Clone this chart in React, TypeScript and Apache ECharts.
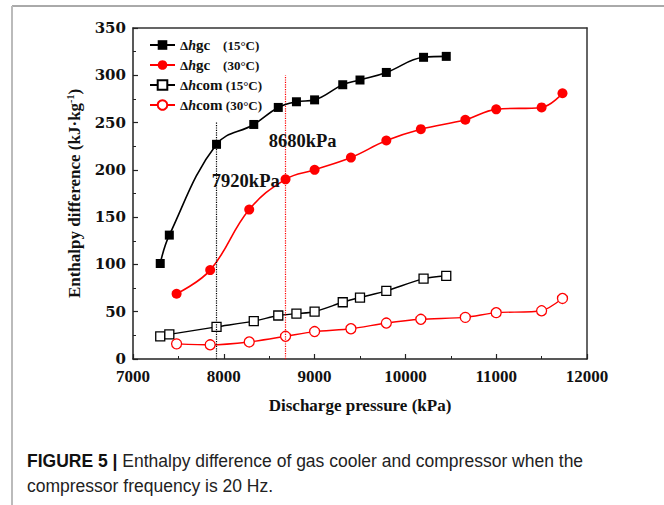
import React, { useEffect, useRef } from "react";
import * as echarts from "echarts";

const pressure15 = [7300, 7400, 7920, 8330, 8600, 8800, 9000, 9310, 9500, 9790, 10200, 10450];
const gc15 = [101, 131, 227, 248, 266, 272, 274, 290, 295, 303, 319, 320];
const com15 = [24, 26, 34, 40, 46, 48, 50, 60, 65, 72, 85, 88];

const pressure30 = [7480, 7850, 8280, 8680, 9000, 9400, 9790, 10170, 10660, 11000, 11500, 11730];
const gc30 = [69, 94, 158, 190, 200, 213, 231, 243, 253, 264, 266, 281];
const com30 = [16, 15, 18, 24, 29, 32, 38, 42, 44, 49, 51, 64];

const seriesNames = ["gc15", "gc30", "com15", "com30"];
const legendTexts: Record<string, string> = {
  gc15: "{d|Δ}{h|h}{s|gc}{t|    (15°C)}",
  gc30: "{d|Δ}{h|h}{s|gc}{t|    (30°C)}",
  com15: "{d|Δ}{h|h}{s|com}{t| (15°C)}",
  com30: "{d|Δ}{h|h}{s|com}{t| (30°C)}",
};

const guide7920 = { x: 7920, top: 251 };
const guide8680 = { x: 8680, top: 300 };
const note7920 = { x: 8242, y: 188, text: "7920kPa" };
const note8680 = { x: 8868, y: 230, text: "8680kPa" };

const xTicks = { min: 7000, max: 12000, interval: 1000 };
const yTicks = { min: 0, max: 350, interval: 50 };

const serif = "'Liberation Serif', 'Times New Roman', serif";
const wideSerif = "'DejaVu Serif', 'Liberation Serif', serif";
const sans = "'Liberation Sans', Arial, sans-serif";

const pairs = (xs: number[], ys: number[]) => xs.map((x, i) => [x, ys[i]]);

export default function App() {
  const ref = useRef<HTMLDivElement>(null);
  useEffect(() => {
    if (!ref.current) return;
    const chart = echarts.init(ref.current, null, { renderer: "svg" });
    const noteLabel = (text: string) => ({
      show: true,
      position: "inside",
      formatter: text,
      fontFamily: serif,
      fontWeight: "bold",
      fontSize: 18.5,
      color: "#111",
    });
    const richBase = { fontFamily: serif, fontWeight: "bold", color: "#111", lineHeight: 18 };
    chart.setOption({
      animation: false,
      backgroundColor: "#fff",
      grid: { left: 133, right: 77, top: 28, bottom: 146, show: false },
      legend: {
        orient: "vertical",
        left: 144,
        top: 31,
        itemWidth: 25,
        itemHeight: 12,
        itemGap: 2,
        data: seriesNames,
        formatter: (n: string) => legendTexts[n],
        textStyle: {
          fontFamily: serif,
          fontWeight: "bold",
          color: "#111",
          lineHeight: 18,
          rich: {
            d: { ...richBase, fontSize: 13 },
            h: { ...richBase, fontStyle: "italic", fontSize: 14 },
            s: { ...richBase, fontSize: 15 },
            t: { ...richBase, fontSize: 13 },
          },
        },
      },
      xAxis: [
        {
          type: "value",
          min: xTicks.min,
          max: xTicks.max,
          interval: xTicks.interval,
          name: "Discharge pressure (kPa)",
          nameLocation: "middle",
          nameGap: 38,
          nameTextStyle: { fontFamily: serif, fontWeight: "bold", fontSize: 17, color: "#111", verticalAlign: "top" },
          axisLine: { show: true, onZero: false, lineStyle: { color: "#222", width: 1.5 } },
          axisTick: { show: true, inside: true, length: 5, lineStyle: { color: "#222", width: 1.2 } },
          minorTick: { show: true, splitNumber: 2, length: 3, lineStyle: { color: "#222" } },
          axisLabel: {
            fontFamily: serif,
            fontWeight: "bold",
            fontSize: 17,
            color: "#111",
            margin: 9,
            formatter: (v: number) => String(v),
          },
          splitLine: { show: false },
        },
        {
          type: "value",
          position: "top",
          min: xTicks.min,
          max: xTicks.max,
          axisLine: { show: true, onZero: false, lineStyle: { color: "#333", width: 1.5 } },
          axisTick: { show: false },
          axisLabel: { show: false },
          splitLine: { show: false },
        },
      ],
      yAxis: [
        {
          type: "value",
          min: yTicks.min,
          max: yTicks.max,
          interval: yTicks.interval,
          name: "Enthalpy difference (kJ·kg{sup|-1})",
          nameLocation: "middle",
          nameGap: 50,
          nameTextStyle: {
            fontFamily: serif,
            fontWeight: "bold",
            fontSize: 17,
            color: "#111",
            rich: { sup: { fontFamily: serif, fontWeight: "bold", fontSize: 10, color: "#111", verticalAlign: "top", padding: [0, 0, 8, 0] } },
          },
          axisLine: { show: true, onZero: false, lineStyle: { color: "#222", width: 1.5 } },
          axisTick: { show: true, inside: true, length: 5, lineStyle: { color: "#222", width: 1.2 } },
          minorTick: { show: true, splitNumber: 2, length: 3, lineStyle: { color: "#222" } },
          axisLabel: { fontFamily: wideSerif, fontWeight: "bold", fontSize: 15, color: "#111", margin: 7 },
          splitLine: { show: false },
        },
        {
          type: "value",
          position: "right",
          min: yTicks.min,
          max: yTicks.max,
          axisLine: { show: true, onZero: false, lineStyle: { color: "#333", width: 1.5 } },
          axisTick: { show: false },
          axisLabel: { show: false },
          splitLine: { show: false },
        },
      ],
      series: [
        {
          name: "gc15",
          type: "line",
          smooth: 0.4,
          data: pairs(pressure15, gc15),
          symbol: "rect",
          symbolSize: 9,
          itemStyle: { color: "#000" },
          lineStyle: { color: "#000", width: 1.6 },
          z: 5,
          markLine: {
            silent: true,
            symbol: "none",
            label: { show: false },
            lineStyle: { type: "dotted", color: "#000", width: 1.2 },
            data: [[{ coord: [guide7920.x, 0] }, { coord: [guide7920.x, guide7920.top] }]],
          },
          markPoint: {
            symbol: "circle",
            symbolSize: 0,
            label: noteLabel(note7920.text),
            data: [{ coord: [note7920.x, note7920.y] }],
          },
        },
        {
          name: "gc30",
          type: "line",
          smooth: 0.4,
          data: pairs(pressure30, gc30),
          symbol: "circle",
          symbolSize: 10,
          itemStyle: { color: "#ff0000" },
          lineStyle: { color: "#ff0000", width: 1.6 },
          z: 4,
          markLine: {
            silent: true,
            symbol: "none",
            label: { show: false },
            lineStyle: { type: "dotted", color: "#ff0000", width: 1.2 },
            data: [[{ coord: [guide8680.x, 0] }, { coord: [guide8680.x, guide8680.top] }]],
          },
          markPoint: {
            symbol: "circle",
            symbolSize: 0,
            label: noteLabel(note8680.text),
            data: [{ coord: [note8680.x, note8680.y] }],
          },
        },
        {
          name: "com15",
          type: "line",
          smooth: 0.25,
          data: pairs(pressure15, com15),
          symbol: "rect",
          symbolSize: 9,
          showAllSymbol: true,
          itemStyle: { color: "#fff", borderColor: "#000", borderWidth: 1.3 },
          lineStyle: { color: "#000", width: 1.4 },
          z: 4,
        },
        {
          name: "com30",
          type: "line",
          smooth: 0.25,
          data: pairs(pressure30, com30),
          symbol: "circle",
          symbolSize: 10,
          itemStyle: { color: "#fff", borderColor: "#ff0000", borderWidth: 1.3 },
          lineStyle: { color: "#ff0000", width: 1.4 },
          z: 4,
        },
      ],
      graphic: [
        { type: "line", shape: { x1: 12, y1: 6, x2: 664, y2: 6 }, style: { stroke: "#555", lineWidth: 1 } },
        { type: "line", shape: { x1: 12, y1: 6, x2: 12, y2: 505 }, style: { stroke: "#bbb", lineWidth: 2 } },
        {
          type: "text",
          left: 27,
          top: 452,
          style: {
            text: "{b|FIGURE 5 |} Enthalpy difference of gas cooler and compressor when the",
            font: `17.5px ${sans}`,
            fill: "#222",
            rich: { b: { fontFamily: sans, fontWeight: "bold", fontSize: 17.5, fill: "#111" } },
          },
        },
        {
          type: "text",
          left: 27,
          top: 477,
          style: { text: "compressor frequency is 20 Hz.", font: `17.5px ${sans}`, fill: "#222" },
        },
      ],
    });
    return () => chart.dispose();
  }, []);
  return <div ref={ref} style={{ width: 664, height: 505, position: "absolute", left: 0, top: 0 }} />;
}
